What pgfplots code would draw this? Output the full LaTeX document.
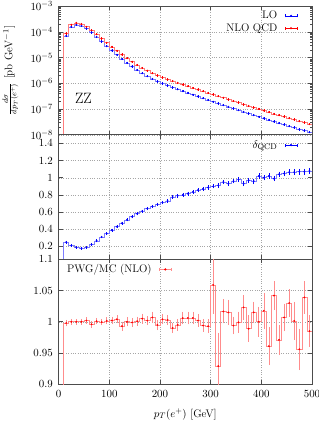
\documentclass[border=0pt]{standalone}
\usepackage{pgfplots}
\pgfplotsset{compat=1.18}
\usepackage{pgfplotstable}

\pgfplotstableread{
x lo loe nlo nloe d de r re
5 1e-12 0 1e-12 0 -1 0 0 0
15 7.08e-5 1.0e-6 8.85e-5 1.3e-6 0.25 0.004 0.998 0.002
25 1.585e-4 2.4e-6 1.918e-4 2.9e-6 0.21 0.004 1.000 0.0015
35 1.905e-4 2.9e-6 2.267e-4 3.4e-6 0.19 0.004 1.000 0.0015
45 1.738e-4 2.6e-6 2.051e-4 3.1e-6 0.18 0.004 1.000 0.0015
55 1.349e-4 2.0e-6 1.599e-4 2.4e-6 0.185 0.004 1.002 0.002
65 9.55e-5 1.4e-6 1.165e-4 1.7e-6 0.22 0.004 0.996 0.002
75 6.46e-5 1.0e-6 8.17e-5 1.2e-6 0.265 0.004 1.001 0.002
85 4.27e-5 6.4e-7 5.59e-5 8.4e-7 0.31 0.004 0.9995 0.002
95 2.82e-5 4.2e-7 3.81e-5 5.7e-7 0.35 0.005 1.0015 0.0025
105 1.905e-5 2.9e-7 2.648e-5 4.0e-7 0.39 0.005 1.002 0.003
115 1.303e-5 2.0e-7 1.863e-5 2.8e-7 0.43 0.005 1.004 0.003
125 9.02e-6 1.4e-7 1.326e-5 2.0e-7 0.47 0.005 0.993 0.004
135 6.31e-6 1.0e-7 9.53e-6 1.5e-7 0.51 0.006 1.000 0.004
145 4.52e-6 7e-8 6.98e-6 1.1e-7 0.545 0.006 0.999 0.004
155 3.31e-6 5e-8 5.23e-6 8e-8 0.58 0.006 1.001 0.004
165 2.48e-6 4e-8 3.99e-6 6e-8 0.61 0.007 1.005 0.005
175 1.905e-6 3e-8 3.124e-6 5e-8 0.64 0.007 1.002 0.004
185 1.496e-6 2.3e-8 2.491e-6 3.8e-8 0.665 0.007 1.007 0.006
195 1.202e-6 1.8e-8 2.031e-6 3.1e-8 0.69 0.008 0.995 0.005
205 9.89e-7 1.5e-8 1.691e-6 2.6e-8 0.71 0.008 1.004 0.005
215 8.22e-7 1.3e-8 1.422e-6 2.2e-8 0.73 0.008 1.003 0.005
225 6.92e-7 1.1e-8 1.228e-6 1.9e-8 0.775 0.009 0.990 0.005
235 5.89e-7 9e-9 1.054e-6 1.6e-8 0.79 0.009 0.995 0.006
245 5.01e-7 8e-9 9.02e-7 1.4e-8 0.80 0.010 1.006 0.007
255 4.27e-7 7e-9 7.75e-7 1.2e-8 0.815 0.010 1.006 0.007
265 3.635e-7 6e-9 6.67e-7 1.0e-8 0.835 0.010 1.006 0.007
275 3.10e-7 5e-9 5.75e-7 9e-9 0.855 0.011 1.002 0.007
285 2.65e-7 4e-9 4.96e-7 8e-9 0.87 0.011 0.994 0.007
295 2.265e-7 3.5e-9 4.27e-7 7e-9 0.885 0.012 0.993 0.008
305 1.939e-7 3e-9 3.68e-7 6e-9 0.90 0.012 1.059 0.043
315 1.662e-7 2.6e-9 3.17e-7 5e-9 0.91 0.013 0.929 0.05
325 1.426e-7 2.3e-9 2.78e-7 4.5e-9 0.95 0.013 1.0165 0.016
335 1.225e-7 2e-9 2.364e-7 4e-9 0.93 0.014 1.015 0.017
345 1.053e-7 1.8e-9 2.064e-7 3.5e-9 0.96 0.014 0.994 0.011
355 9.07e-8 1.6e-9 1.796e-7 3e-9 0.98 0.015 0.999 0.014
365 7.82e-8 1.4e-9 1.509e-7 2.6e-9 0.93 0.015 1.023 0.017
375 6.75e-8 1.2e-9 1.330e-7 2.3e-9 0.97 0.016 0.989 0.018
385 5.83e-8 1.1e-9 1.143e-7 2e-9 0.96 0.016 1.015 0.014
395 5.04e-8 1e-9 1.018e-7 1.8e-9 1.02 0.017 1.000 0.021
405 4.37e-8 9e-10 8.74e-8 1.6e-9 1.00 0.017 1.0175 0.026
415 3.78e-8 8e-10 7.64e-8 1.5e-9 1.02 0.018 0.961 0.027
425 3.285e-8 7e-10 6.54e-8 1.3e-9 0.99 0.018 1.042 0.020
435 2.855e-8 6e-10 5.82e-8 1.2e-9 1.04 0.019 0.971 0.021
445 2.48e-8 5.5e-10 5.08e-8 1.1e-9 1.05 0.019 1.007 0.019
455 2.16e-8 5e-10 4.46e-8 1e-9 1.065 0.020 1.030 0.019
465 1.886e-8 4.5e-10 3.89e-8 9e-10 1.065 0.020 1.0015 0.027
475 1.646e-8 4e-10 3.41e-8 8e-10 1.07 0.021 0.956 0.030
485 1.439e-8 3.5e-10 2.98e-8 7e-10 1.07 0.021 1.039 0.023
495 1.259e-8 3e-10 2.62e-8 6e-10 1.08 0.022 0.985 0.022
}\T

\definecolor{stepblue}{RGB}{125,125,255}
\definecolor{stepred}{RGB}{255,125,125}
\definecolor{pinkred}{RGB}{255,140,140}

\pgfplotsset{
 panel/.style={
  scale only axis, width=253.4bp, xmin=0, xmax=500,
  xtick={0,100,200,300,400,500},
  axis line style={black!70, line width=0.8bp},
  tick style={black!70, line width=0.6bp},
  major tick length=4bp, minor tick length=2.2bp,
  grid=major, grid style={dotted, gray!70, line width=0.4bp},
  tick align=inside,
  yticklabel style={xshift=-2bp},
  xticklabel style={yshift=-2bp},
  legend style={draw=none, fill=none, inner sep=0pt, row sep=0pt, column sep=6bp, nodes={inner sep=1.5bp}},
  legend plot pos=right,
  legend cell align=right,
 },
 errlegend/.style 2 args={legend image code/.code={
   \draw[#1, line width=0.6bp] (0bp,0bp) -- (12bp,0bp);
   \draw[#1, line width=0.6bp] (0bp,-1.5bp) -- (0bp,1.5bp);
   \draw[#1, line width=0.6bp] (12bp,-1.5bp) -- (12bp,1.5bp);
   \fill[#2] (6bp,0bp) circle (0.9bp);}},
}

\begin{document}
\fontsize{11}{13}\selectfont
\begin{tikzpicture}
% ---------- panel 1 ----------
\begin{axis}[panel, at={(0bp,249.5bp)}, anchor=south west, height=128.5bp,
  ymode=log, ymin=1e-8, ymax=1e-3,
  ytick={1e-8,1e-7,1e-6,1e-5,1e-4,1e-3},
  xticklabels={},
  ylabel={$\frac{d\sigma}{dp_T(e^+)}$ [pb GeV$^{-1}$]},
  ylabel style={at={(axis description cs:-0.19,0.5)}, anchor=center},
  legend style={at={(axis description cs:0.943,0.975)}, anchor=north east}]
\addplot[const plot mark right, stepblue, line width=0.6bp, forget plot] table[x expr=\thisrow{x}+5, y=lo] {\T};
\addplot[const plot mark right, stepred, line width=0.6bp, forget plot] table[x expr=\thisrow{x}+5, y=nlo] {\T};
\addplot[blue, only marks, mark=*, mark size=0.7bp, skip coords between index={0}{1}, errlegend={blue}{blue},
  error bars/.cd, y dir=both, y explicit, error bar style={blue, line width=0.5bp}, error mark options={blue, mark size=1bp, line width=0.5bp}]
  table[x=x, y=lo, y error=loe] {\T};
\addlegendentry{LO}
\addplot[red, only marks, mark=*, mark size=0.7bp, skip coords between index={0}{1}, errlegend={red}{red},
  error bars/.cd, y dir=both, y explicit, error bar style={red, line width=0.5bp}, error mark options={red, mark size=1bp, line width=0.5bp}]
  table[x=x, y=nlo, y error=nloe] {\T};
\addlegendentry{NLO QCD}
\node[font=\fontsize{15}{18}\selectfont] at (axis cs:49,2.6e-7) {ZZ};
\end{axis}
% ---------- panel 2 ----------
\begin{axis}[panel, at={(0bp,125bp)}, anchor=south west, height=124.5bp,
  ymin=0.05, ymax=1.5,
  ytick={0.2,0.4,0.6,0.8,1,1.2,1.4},
  xticklabels={},
  legend style={at={(axis description cs:0.943,0.968)}, anchor=north east}]
\addplot[const plot mark right, stepblue, line width=0.6bp, forget plot] table[x expr=\thisrow{x}+5, y=d] {\T};
\addplot[blue, only marks, mark=*, mark size=0.7bp, skip coords between index={0}{1}, errlegend={blue}{blue},
  error bars/.cd, y dir=both, y explicit, error bar style={blue, line width=0.5bp}, error mark options={blue, mark size=1.1bp, line width=0.5bp}]
  table[x=x, y=d, y error=de] {\T};
\addlegendentry{$\delta_{\mathrm{QCD}}$}
\end{axis}
% ---------- panel 3 ----------
\begin{axis}[panel, at={(0bp,0bp)}, anchor=south west, height=125bp,
  ymin=0.9, ymax=1.1,
  ytick={0.9,0.95,1,1.05,1.1},
  xlabel={$p_T(e^+)$ [GeV]},
  xlabel style={at={(axis description cs:0.5,-0.238)}, anchor=center},
  legend style={at={(axis description cs:0.027,0.972)}, anchor=north west}]
\addplot[const plot mark right, pinkred, line width=0.6bp, forget plot] table[x expr=\thisrow{x}+5, y=r] {\T};
\addplot[red, only marks, mark=*, mark size=0.7bp, skip coords between index={0}{1}, errlegend={pinkred}{red},
  error bars/.cd, y dir=both, y explicit, error bar style={pinkred, line width=0.6bp}, error mark options={pinkred, mark size=2bp, line width=0.6bp}]
  table[x=x, y=r, y error=re] {\T};
\addlegendentry{PWG/MC (NLO)}
\end{axis}
\pgfresetboundingbox
\path[use as bounding box] (-58.6bp,-36.7bp) rectangle (260.4bp,384.3bp);
\end{tikzpicture}
\end{document}
